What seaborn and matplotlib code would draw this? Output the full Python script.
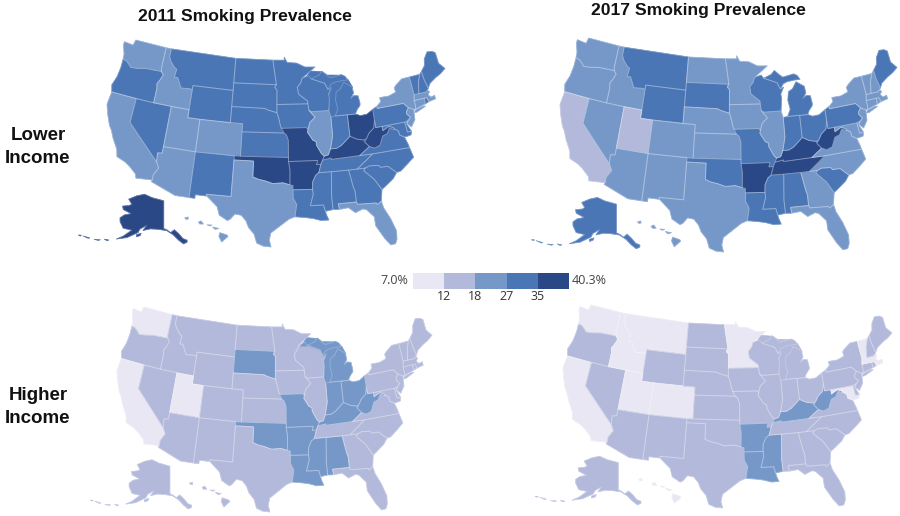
# smoking prevalence by state, lower vs higher income, 2011 and 2017
import numpy as np
import matplotlib
matplotlib.use("Agg")
import matplotlib.pyplot as plt
from matplotlib.collections import PolyCollection
from matplotlib.colors import ListedColormap
import seaborn as sns

W, H = 900, 516

# Rough state outlines, lon/lat
WA = [[(-124.7,48.4),(-123.0,48.3),(-122.8,49.0),(-117.03,49.0),(-117.04,46.4),(-116.92,45.99),(-119.0,45.93),(-119.6,45.92),(-121.2,45.65),(-122.3,45.55),(-122.8,45.9),(-123.4,46.2),(-124.0,46.25),(-124.1,46.9),(-124.7,48.0)]]
OR = [[(-124.0,46.25),(-123.4,46.2),(-122.8,45.9),(-122.3,45.55),(-121.2,45.65),(-119.6,45.92),(-119.0,45.93),(-116.92,45.99),(-116.46,45.6),(-116.85,44.9),(-117.2,44.4),(-117.03,43.8),(-117.03,42.0),(-124.2,42.0),(-124.55,42.85),(-124.1,44.0),(-123.95,45.2)]]
CA = [[(-124.2,42.0),(-120.0,42.0),(-120.0,39.0),(-114.63,35.0),(-114.13,34.3),(-114.72,33.4),(-114.72,32.72),(-117.12,32.53),(-117.3,33.0),(-118.4,33.75),(-119.2,34.15),(-120.6,34.55),(-120.9,35.4),(-121.9,36.6),(-122.5,37.5),(-123.0,38.0),(-123.8,39.3),(-124.35,40.4)]]
NV = [[(-120,42),(-114.04,42),(-114.04,36.2),(-114.75,36.1),(-114.63,35.0),(-120,39)]]
ID = [[(-117.03,49),(-116.05,49),(-116.05,48.0),(-115.7,47.5),(-114.8,46.8),(-114.35,46.65),(-114.5,45.6),(-113.9,45.65),(-113.45,45.05),(-113.0,44.45),(-111.5,44.55),(-111.05,44.48),(-111.05,42),(-117.03,42),(-117.03,43.8),(-117.2,44.4),(-116.85,44.9),(-116.46,45.6),(-116.92,45.99),(-117.04,46.4)]]
MT = [[(-116.05,49),(-104.05,49),(-104.05,45),(-111.05,45),(-111.05,44.48),(-111.5,44.55),(-113.0,44.45),(-113.45,45.05),(-113.9,45.65),(-114.5,45.6),(-114.35,46.65),(-114.8,46.8),(-115.7,47.5),(-116.05,48)]]
WY = [[(-111.05,45),(-104.05,45),(-104.05,41),(-111.05,41)]]
UT = [[(-114.04,42),(-111.05,42),(-111.05,41),(-109.05,41),(-109.05,37),(-114.04,37)]]
CO = [[(-109.05,41),(-102.05,41),(-102.05,37),(-109.05,37)]]
AZ = [[(-114.04,37),(-109.05,37),(-109.05,31.33),(-111.07,31.33),(-114.81,32.5),(-114.72,32.72),(-114.72,33.4),(-114.13,34.3),(-114.63,35),(-114.75,36.1),(-114.04,36.2)]]
NM = [[(-109.05,37),(-103.0,37),(-103.04,32),(-106.62,32),(-106.53,31.78),(-108.2,31.78),(-108.2,31.33),(-109.05,31.33)]]
ND = [[(-104.05,49),(-97.23,49),(-96.56,45.94),(-104.05,45.94)]]
SD = [[(-104.05,45.94),(-96.56,45.94),(-96.85,45.6),(-96.45,45.3),(-96.45,43.5),(-96.45,42.49),(-97.9,42.8),(-98.5,43),(-104.05,43)]]
NE = [[(-104.05,43),(-98.5,43),(-97.9,42.8),(-96.45,42.49),(-96.1,41.7),(-95.9,41.0),(-95.31,40),(-102.05,40),(-102.05,41),(-104.05,41)]]
KS = [[(-102.05,40),(-95.31,40),(-94.9,39.75),(-94.61,39.1),(-94.62,37),(-102.05,37)]]
OK = [[(-103,37),(-94.62,37),(-94.62,36.5),(-94.43,35.4),(-94.48,33.64),(-95.5,33.9),(-97.0,33.8),(-98.1,34.1),(-99.2,34.3),(-100,34.56),(-100,36.5),(-103,36.5)]]
TX = [[(-106.62,32),(-103.04,32),(-103,36.5),(-100,36.5),(-100,34.56),(-99.2,34.3),(-98.1,34.1),(-97,33.8),(-95.5,33.9),(-94.48,33.64),(-94.04,33.55),(-94.04,31.99),(-93.55,31.2),(-93.84,29.7),(-94.7,29.4),(-95.9,28.6),(-97.2,27.7),(-97.4,26.8),(-97.15,25.96),(-98.2,26.05),(-99.1,26.4),(-99.5,27.5),(-100.3,28.3),(-100.7,29.1),(-101.4,29.77),(-102.3,29.88),(-102.9,29.2),(-103.3,29.0),(-104.5,29.6),(-104.9,30.6),(-106.53,31.78)]]
MN = [[(-97.23,49),(-95.15,49),(-95.15,49.38),(-94.6,48.7),(-92.9,48.6),(-91.4,48.07),(-89.6,48.0),(-92.0,46.7),(-92.3,46.1),(-92.9,45.6),(-92.75,44.75),(-91.25,43.85),(-91.22,43.5),(-96.45,43.5),(-96.45,45.3),(-96.85,45.6),(-96.56,45.94)]]
IA = [[(-96.45,43.5),(-91.22,43.5),(-91.1,42.7),(-90.15,41.8),(-91.05,41.2),(-91.4,40.4),(-91.73,40.6),(-95.77,40.58),(-95.9,41.0),(-96.1,41.7),(-96.45,42.49)]]
MO = [[(-95.77,40.58),(-91.73,40.6),(-91.4,40.4),(-91.5,40.0),(-90.7,39.0),(-90.2,38.8),(-90.2,38.4),(-89.5,37.3),(-89.1,36.97),(-89.4,36.5),(-89.7,36.0),(-90.37,36),(-90.15,36.5),(-94.62,36.5),(-94.62,37),(-94.61,39.1),(-94.9,39.75),(-95.31,40)]]
AR = [[(-94.62,36.5),(-90.15,36.5),(-90.37,36),(-89.7,36),(-90.1,35.0),(-90.6,34.7),(-91.1,33.9),(-91.17,33.0),(-94.04,33.02),(-94.04,33.55),(-94.48,33.64),(-94.43,35.4)]]
LA = [[(-94.04,33.02),(-91.17,33.0),(-91.1,32.4),(-91.6,31.0),(-89.73,31.0),(-89.5,30.2),(-89.4,29.8),(-89.1,29.1),(-90.2,29.1),(-91.3,29.4),(-92.3,29.55),(-93.84,29.7),(-93.55,31.2),(-94.04,31.99)]]
MS = [[(-91.17,33),(-91.1,33.9),(-90.6,34.7),(-90.1,35.0),(-88.2,35.0),(-88.47,31.9),(-88.4,30.35),(-89.5,30.2),(-89.73,31),(-91.6,31),(-91.1,32.4)]]
AL = [[(-88.2,35),(-85.6,35),(-85.18,32.87),(-85.0,32.3),(-85.0,31.0),(-87.6,31.0),(-87.5,30.3),(-88.4,30.35),(-88.47,31.9)]]
GA = [[(-85.6,35),(-83.1,35),(-83.35,34.7),(-82.0,33.5),(-81.1,32.1),(-81.45,30.7),(-82.05,30.36),(-82.2,30.57),(-84.86,30.7),(-85,31),(-85,32.3),(-85.18,32.87)]]
FL = [[(-87.6,31),(-85,31),(-84.86,30.7),(-82.2,30.57),(-82.05,30.36),(-81.45,30.7),(-81.25,29.8),(-80.55,28.4),(-80.03,26.8),(-80.15,25.75),(-80.45,25.2),(-81.1,25.15),(-81.8,26.1),(-82.75,27.8),(-82.75,28.9),(-83.7,29.9),(-84.2,30.05),(-85.3,29.7),(-86.2,30.4),(-87.5,30.3)]]
SC = [[(-83.35,34.7),(-83.1,35),(-82.4,35.2),(-81.05,35.1),(-80.8,34.82),(-79.67,34.8),(-78.55,33.86),(-79.2,33.2),(-80.4,32.5),(-81.1,32.1),(-82,33.5)]]
NC = [[(-84.32,35),(-83.1,35),(-82.4,35.2),(-81.05,35.1),(-80.8,34.82),(-79.67,34.8),(-78.55,33.86),(-77.9,33.95),(-76.6,34.7),(-75.6,35.3),(-75.9,36.55),(-81.68,36.59),(-82.6,36.03)]]
TN = [[(-90.1,35),(-88.2,35),(-85.6,35),(-84.32,35),(-82.6,36.03),(-81.68,36.59),(-83.68,36.6),(-88.07,36.5),(-88.07,36.68),(-89.4,36.5),(-89.7,36)]]
KY = [[(-89.4,36.5),(-88.07,36.68),(-88.07,36.5),(-83.68,36.6),(-81.97,37.54),(-82.6,38.17),(-82.6,38.42),(-83.7,38.63),(-84.8,39.1),(-85.4,38.7),(-86.3,38.1),(-87.1,37.8),(-88.05,37.8),(-88.45,37.1),(-89.1,36.97)]]
VA = [[(-83.68,36.6),(-81.68,36.59),(-75.9,36.55),(-76.0,37.0),(-76.3,37.9),(-77.0,38.3),(-77.05,38.8),(-77.5,39.1),(-77.83,39.13),(-78.35,39.4),(-78.85,38.75),(-79.65,38.55),(-80.3,37.5),(-81.2,37.25),(-81.97,37.54)]]
WV = [[(-81.97,37.54),(-81.2,37.25),(-80.3,37.5),(-79.65,38.55),(-78.85,38.75),(-78.35,39.4),(-77.83,39.13),(-77.72,39.32),(-78.4,39.6),(-79.48,39.2),(-79.48,39.72),(-80.52,39.72),(-80.52,40.64),(-80.85,39.7),(-81.7,39.2),(-82.2,38.6),(-82.6,38.17)]]
MD = [[(-79.48,39.72),(-75.79,39.72),(-75.7,38.46),(-75.05,38.45),(-75.25,38.03),(-75.95,37.95),(-76.3,37.95),(-77.0,38.3),(-77.05,38.8),(-77.5,39.1),(-77.72,39.32),(-78.4,39.6),(-79.48,39.2)]]
DE = [[(-75.79,39.72),(-75.4,39.8),(-75.55,39.45),(-75.05,38.45),(-75.7,38.46)]]
PA = [[(-80.52,41.98),(-79.76,42.27),(-79.76,42.0),(-75.35,42.0),(-74.7,41.36),(-75.13,40.95),(-75.2,40.65),(-74.72,40.15),(-75.4,39.8),(-75.79,39.72),(-80.52,39.72)]]
OH = [[(-84.8,41.7),(-83.45,41.73),(-82.7,41.45),(-81.6,41.5),(-80.52,41.98),(-80.52,40.64),(-80.85,39.7),(-81.7,39.2),(-82.2,38.6),(-82.6,38.42),(-83.7,38.63),(-84.8,39.1)]]
IN = [[(-87.53,41.72),(-86.8,41.76),(-84.8,41.76),(-84.8,39.1),(-85.4,38.7),(-86.3,38.1),(-87.1,37.8),(-88.05,37.8),(-87.53,39.35)]]
IL = [[(-90.65,42.5),(-87.8,42.5),(-87.53,41.72),(-87.53,39.35),(-88.05,37.8),(-88.45,37.1),(-89.1,36.97),(-89.5,37.3),(-90.2,38.4),(-90.2,38.8),(-90.7,39),(-91.5,40),(-91.4,40.4),(-91.05,41.2),(-90.15,41.8),(-91.1,42.7)]]
WI = [[(-92.0,46.7),(-90.8,46.95),(-90.4,46.55),(-88.1,45.9),(-87.6,45.1),(-87.0,45.3),(-87.6,44.5),(-87.5,44.0),(-87.8,42.5),(-90.65,42.5),(-91.1,42.7),(-91.22,43.5),(-91.25,43.85),(-92.75,44.75),(-92.9,45.6),(-92.3,46.1)]]
MI = [[(-86.8,41.76),(-84.8,41.76),(-83.45,41.73),(-83.1,42.2),(-82.5,42.7),(-82.45,43.0),(-82.6,43.9),(-83.3,44.0),(-83.9,43.7),(-83.3,44.3),(-83.4,45.1),(-84.75,45.78),(-85.5,45.0),(-86.25,44.7),(-86.5,43.7),(-86.25,42.6)],
      [(-90.4,46.55),(-89,46.95),(-88.4,47.4),(-87.6,46.85),(-87.0,46.5),(-85.0,46.75),(-84.4,46.5),(-84.0,46.0),(-85.0,46.0),(-86.3,45.9),(-87.0,45.7),(-87.6,45.1),(-88.1,45.9)]]
NY = [[(-79.76,42.27),(-79.76,42),(-75.35,42),(-74.7,41.36),(-73.9,41.0),(-73.65,41.0),(-73.5,41.3),(-73.5,42.05),(-73.27,42.75),(-73.35,45.0),(-74.7,45.0),(-75.9,44.4),(-76.3,44.1),(-76.2,43.55),(-77.5,43.25),(-79.05,43.27),(-79.0,42.75)],
      [(-74.0,40.6),(-73.6,40.9),(-72.3,41.15),(-71.9,41.05),(-73.5,40.58)]]
NJ = [[(-74.7,41.36),(-73.9,41.0),(-74.0,40.45),(-74.1,39.75),(-74.9,38.95),(-75.5,39.5),(-74.72,40.15),(-75.2,40.65),(-75.13,40.95)]]
CT = [[(-73.65,41.0),(-71.85,41.32),(-71.8,42.02),(-73.5,42.05),(-73.5,41.3)]]
RI = [[(-71.85,41.32),(-71.15,41.48),(-71.38,42.02),(-71.8,42.02)]]
MA = [[(-73.5,42.05),(-71.8,42.02),(-71.38,42.02),(-71.15,41.48),(-70.0,41.6),(-70.0,42.05),(-70.65,41.95),(-71.0,42.3),(-70.65,42.65),(-70.9,42.88),(-71.3,42.7),(-72.46,42.73),(-73.27,42.75)]]
VT = [[(-73.27,42.75),(-72.46,42.73),(-72.05,44.1),(-71.5,45.01),(-73.35,45)]]
NH = [[(-72.46,42.73),(-71.3,42.7),(-70.9,42.88),(-70.7,43.07),(-71.0,44.3),(-71.08,45.3),(-71.5,45.01),(-72.05,44.1)]]
ME = [[(-71.08,45.3),(-71.0,44.3),(-70.7,43.07),(-70.2,43.6),(-69.0,44.1),(-68.0,44.4),(-67.0,44.85),(-67.8,45.7),(-67.8,47.07),(-68.3,47.35),(-69.2,47.45),(-70.0,46.7),(-70.3,45.9)]]
AK = [[(-141,69.65),(-141,60.3),(-139.5,59.9),(-137.5,58.9),(-135.5,59.8),(-133.5,58.4),(-131.8,56.6),(-130.0,55.9),(-130.2,55.2),(-132,54.8),(-134,56.2),(-136.3,58.1),(-139.5,59.6),(-144,60.0),(-148,60.0),(-151.8,59.2),(-150.5,61.0),(-153.5,59.5),(-154,58.3),(-158.5,56.0),(-163,54.7),(-160.5,56.2),(-157.5,58.7),(-162,58.7),(-165,60.5),(-166,61.7),(-164.5,63.0),(-161,64.0),(-166.5,64.6),(-168,65.6),(-164,66.5),(-163,67.1),(-166.5,68.4),(-162,70.2),(-156.5,71.3),(-150,70.5),(-144,70.0)],
      [(-154.6,57.5),(-152.4,58.2),(-152.6,57.4),(-154.2,56.8)],
      [(-168,53.5),(-166,53.7),(-166.5,53.3)],
      [(-172,52.3),(-169.5,52.9),(-170,52.5)],
      [(-177,51.9),(-174,52.2),(-174.5,51.9)],
      [(-179,51.5),(-177.8,51.9),(-178,51.5)]]
HI = [[(-155.9,20.2),(-155.1,19.9),(-155.0,19.7),(-155.7,19.0),(-156.0,19.7)],
      [(-156.7,20.9),(-156.0,20.75),(-156.4,20.6)],
      [(-157.3,21.2),(-156.75,21.17),(-157.0,21.05)],
      [(-158.25,21.55),(-157.95,21.7),(-157.7,21.3),(-158.1,21.3)],
      [(-159.75,22.1),(-159.4,22.2),(-159.35,21.95),(-159.6,21.9)]]
# Three of the four maps have the lakes merged into Michigan, one dome shape
LAKE = [[(-91.7,46.6),(-90.5,47.6),(-88.4,47.4),(-87.6,46.95),(-85.0,46.75),(-84.0,46.1),(-83.4,45.1),(-85.5,44.5),(-86.25,42.6),(-86.8,41.76),(-87.53,41.72),(-87.8,42.5),(-87.5,44.0),(-87.6,44.5),(-87.0,45.3),(-87.6,45.1),(-88.1,45.9),(-90.4,46.55)]]

state_names = "WA OR CA NV ID MT WY UT CO AZ NM ND SD NE KS OK TX MN IA MO AR LA MS AL GA FL SC NC TN KY VA WV MD DE PA OH IN IL WI MI NY NJ CT RI MA VT NH ME AK HI".split()
shapes = [WA,OR,CA,NV,ID,MT,WY,UT,CO,AZ,NM,ND,SD,NE,KS,OK,TX,MN,IA,MO,AR,LA,MS,AL,GA,FL,SC,NC,TN,KY,VA,WV,MD,DE,PA,OH,IN,IL,WI,MI,NY,NJ,CT,RI,MA,VT,NH,ME,AK,HI]

# class index per state, same order as state_names
lower_2011  = [2,3,2,3,2,3,3,2,2,2,3,3,3,3,3,4,2,3,3,4,4,3,3,3,3,2,3,3,3,4,3,4,3,3,3,4,3,2,3,3,2,2,2,3,2,3,3,3,4,2]
lower_2017  = [2,2,1,2,2,3,3,1,2,2,2,2,3,2,2,3,2,2,2,3,4,3,3,3,2,2,3,2,4,4,2,4,2,2,3,3,3,2,3,3,2,2,2,2,2,2,2,3,3,2]
higher_2011 = [0,1,0,1,1,1,1,0,1,1,1,1,2,1,1,2,1,1,1,2,2,2,2,2,1,1,1,1,1,2,1,2,1,1,1,2,2,1,1,2,1,1,1,1,1,1,1,1,1,1]
higher_2017 = [0,1,0,1,0,0,1,0,0,1,1,1,1,1,1,1,1,0,1,1,2,2,2,1,1,1,1,1,1,2,1,2,0,1,1,1,1,1,1,1,1,1,1,1,0,0,1,1,1,0]

colors = ["#e9e7f3", "#b3b9da", "#7698c9", "#4a76b6", "#2b4886"]
tick_labels = ["12", "18", "27", "35"]
low_label = "7.0%"
high_label = "40.3%"
column_titles = ["2011 Smoking Prevalence", "2017 Smoking Prevalence"]
row_titles = ["Lower\nIncome", "Higher\nIncome"]


def albers(ring, lon0=-96, lat0=37.5, p1=29.5, p2=45.5):
    lon, lat = np.radians(np.array(ring)).T
    lon0, lat0, p1, p2 = np.radians([lon0, lat0, p1, p2])
    n = (np.sin(p1) + np.sin(p2)) / 2
    c = np.cos(p1) ** 2 + 2 * n * np.sin(p1)
    rho = np.sqrt(c - 2 * n * np.sin(lat)) / n
    rho0 = np.sqrt(c - 2 * n * np.sin(lat0)) / n
    return np.column_stack([rho * np.sin(n * (lon - lon0)), rho0 - rho * np.cos(n * (lon - lon0))])


def fit_rings(rings, x0, x1, y0, y1):
    # stretch a group of rings so it fills the box
    all_pts = np.vstack(rings)
    lo, hi = all_pts.min(axis=0), all_pts.max(axis=0)
    return [np.array([x0, y0]) + (r - lo) / (hi - lo) * np.array([x1 - x0, y1 - y0]) for r in rings]


conus_pts = np.vstack([albers(r) for s, name in zip(shapes, state_names) if name not in ("AK", "HI") for r in s])
xmin, ymin = conus_pts.min(axis=0)
xmax, ymax = conus_pts.max(axis=0)
x_at = lambda f: xmin + f * (xmax - xmin)
y_at = lambda f: ymax - f * (ymax - ymin)   # f measured down from the top


def project(name, rings):
    if name == "AK":
        # centred near the Yukon border so that border stays vertical
        return fit_rings([albers(r, -141, 50, 55, 65) for r in rings], x_at(-0.085), x_at(0.237), y_at(0.985), y_at(0.745))
    if name == "HI":
        rings = [np.array(r) * np.array([np.cos(np.radians(20)), 1]) for r in rings]
        return fit_rings(rings, x_at(0.23), x_at(0.358), y_at(0.976), y_at(0.855))
    return [albers(r) for r in rings]


def px_axes(fig, left, top, right, bottom):
    return fig.add_axes([left / W, 1 - bottom / H, (right - left) / W, (bottom - top) / H])


def draw_map(fig, box, classes, fill_lake):
    ax = px_axes(fig, *box)
    polys, facecolors = [], []
    for name, rings, cls in zip(state_names, shapes, classes):
        for r in project(name, rings):
            polys.append(r)
            facecolors.append(colors[cls])
    # first pass closes the seams, second one puts on the faint borders
    ax.add_collection(PolyCollection(polys, facecolors=facecolors, edgecolors=facecolors, linewidths=0.5, clip_on=False))
    if fill_lake:
        mi_color = colors[classes[state_names.index("MI")]]
        ax.add_collection(PolyCollection([albers(r) for r in LAKE], facecolors=mi_color, edgecolors=mi_color, linewidths=0.5))
    ax.add_collection(PolyCollection(polys, facecolors="none", edgecolors=(1, 1, 1, 0.22), linewidths=0.7, clip_on=False))
    ax.set_xlim(xmin, xmax)
    ax.set_ylim(ymin, ymax)
    ax.axis("off")
    return ax


def main():
    sns.set_theme(style="white")
    fig = plt.figure(figsize=(W / 100, H / 100), dpi=100, facecolor="white")

    draw_map(fig, (107, 40, 445, 247), lower_2011, True)
    draw_map(fig, (560, 38, 897, 252), lower_2017, False)
    draw_map(fig, (117, 307, 432, 512), higher_2011, True)
    draw_map(fig, (563, 305, 892, 508), higher_2017, True)

    for x, y, t in zip([245, 698], [16, 10], column_titles):
        fig.text(x / W, 1 - y / H, t, ha="center", va="center", fontsize=12.6, fontweight="bold",
                 family="Liberation Sans", color="#111111")
    for y, t in zip([147, 407], row_titles):
        fig.text(38 / W, 1 - y / H, t, ha="center", va="center", fontsize=13.5, fontweight="bold",
                 family="Liberation Sans", color="#111111", linespacing=1.45)

    # legend strip
    cax = px_axes(fig, 413, 273, 569, 289)
    sns.heatmap(np.arange(len(colors)).reshape(1, -1), cmap=ListedColormap(sns.color_palette(colors)),
                cbar=False, ax=cax, xticklabels=False, yticklabels=False)
    cax.set_xticks(range(1, len(colors)))
    cax.set_xticklabels(tick_labels, fontsize=9, family="Open Sans", color="#333333", rotation=0)
    cax.tick_params(axis="x", length=0, pad=1)
    fig.text(408 / W, 1 - 281 / H, low_label, ha="right", va="center", fontsize=9, family="Open Sans", color="#444444")
    fig.text(572 / W, 1 - 281 / H, high_label, ha="left", va="center", fontsize=9, family="Open Sans", color="#444444")

    fig.savefig("out.png", dpi=100, facecolor="white")


if __name__ == "__main__":
    main()
